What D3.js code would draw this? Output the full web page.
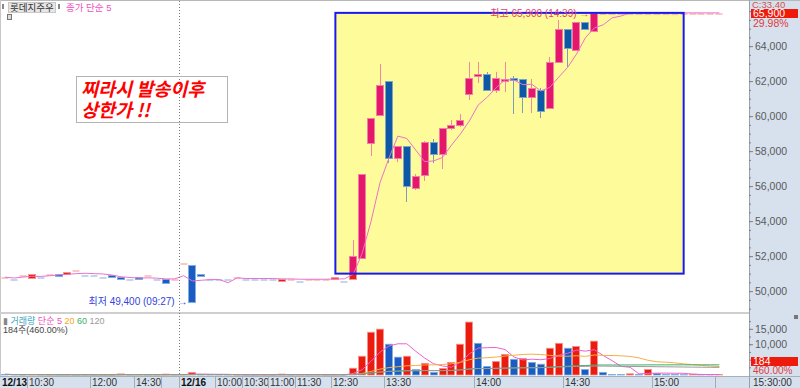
<!DOCTYPE html>
<html>
<head>
<meta charset="utf-8">
<script src="https://cdn.jsdelivr.net/npm/d3@7"></script>
<style>
  html, body { margin: 0; padding: 0; background: #fff; }
  svg { display: block; font-family: "Liberation Sans Narrow", "Liberation Sans", "Noto Sans CJK KR", sans-serif; }
</style>
</head>
<body>
<svg id="chart" width="800" height="388"></svg>
<script>
// 3-minute bars, 12/13 afternoon + 12/16
const open  = [50800,50700,50900,50800,50800,51000,51000,51000,51200,50900,
               50900,50800,50900,50800,50700,50800,50900,50700,50700,50700,
               51600,51500,51000,50700,50700,50700,50800,50700,50700,50700,
               50700,50600,50700,50600,50700,50700,50700,50700,50600,50700,
               51900,58500,60100,62000,57600,58300,55900,56600,58500,57800,
               59300,59500,61300,62300,62400,61500,62000,62200,62100,61100,
               61500,60500,63100,65000,63800,65400,64900,65900,65900,65900,
               65900,65900,65900,65900,65900,65900,65900,65900,65900,65900,65900];
const high  = [50800,50700,50900,51000,50800,51000,51000,51100,51200,50900,
               50900,50800,50900,50800,50700,50800,50900,50700,50700,50700,
               51600,51500,51000,50700,50700,50700,50800,50700,50700,50700,
               50700,50700,50700,50600,50700,50700,50700,50800,50600,52900,
               56700,59900,63000,62000,58300,58300,56700,58600,58700,59300,
               59800,60100,63100,63100,62500,62500,63100,62300,62100,62100,
               61600,63400,65500,65000,65400,65400,65900,65900,65900,65900,
               65900,65900,65900,65900,65900,65900,65900,65900,65900,65900,65900];
const low   = [50800,50700,50900,50800,50800,51000,50900,51000,51200,50900,
               50900,50800,50800,50700,50700,50700,50900,50700,50500,50700,
               51600,49400,50900,50700,50700,50700,50800,50700,50700,50700,
               50700,50600,50700,50600,50700,50700,50700,50700,50600,50700,
               51900,57700,60100,57300,57400,55100,55800,56300,57300,57000,
               59200,59400,60900,61900,61500,61300,61400,60100,60200,60200,
               59900,60500,63100,62800,63800,65000,64900,65900,65900,65900,
               65900,65900,65900,65900,65900,65900,65900,65900,65900,65900,65900];
const close = [50800,50700,50900,51000,50800,51000,50900,51100,51200,50900,
               50900,50800,50800,50700,50700,50700,50900,50700,50500,50700,
               51600,49400,50900,50700,50700,50700,50800,50700,50700,50700,
               50700,50700,50700,50600,50700,50700,50700,50800,50600,52000,
               56700,59900,61800,57600,58300,56000,56600,58500,57800,59300,
               59500,59800,62200,62400,61500,62200,62100,62100,61100,61600,
               60300,63100,65000,63900,65400,65000,65900,65900,65900,65900,
               65900,65900,65900,65900,65900,65900,65900,65900,65900,65900,65900];
const volume = [200,100,80,150,60,100,80,120,60,80,
                50,60,100,350,50,80,60,70,300,120,
                150,800,100,50,40,30,60,40,30,30,
                20,300,50,60,30,30,40,150,100,2200,
                6100,13900,14900,10000,5800,6100,1800,3800,850,2150,
                4100,10000,17200,10300,2800,4400,6700,5100,5400,4100,
                3500,8700,10300,8700,9300,1800,11000,850,200,150,
                400,150,1800,500,200,150,100,300,150,40,184];
const prevClose = 50700;

const tickIndex  = [0, 3, 10, 15, 18, 20, 24, 27, 30, 33, 37, 43, 53, 63, 73, 80];
const tickLabels = ['12/13', '10:30', '12:00', '14:30', '', '12/16', '10:00', '10:30',
                    '11:00', '11:30', '12:30', '13:30', '14:00', '14:30', '15:00', ''];
const priceTicks  = [50000, 52000, 54000, 56000, 58000, 60000, 62000, 64000];
const volumeTicks = [10000, 15000];

// highlighted box: bar range and price range
const boxBars   = [37, 76];
const boxPrices = [51000, 65900];

const W = 800, H = 388, plotRight = 749;
const priceTop = 5, priceBottom = 313, volTop = 315, volBottom = 375, axisTop = 376;

const svg = d3.select('#chart');
const idx = d3.range(close.length);

const x = d3.scaleBand().domain(idx).range([0.5, 0.5 + 8.93 * close.length]).paddingInner(0.1).paddingOuter(0.05);
const y = d3.scaleLinear().domain([48750, 66350]).range([priceBottom, priceTop]);
const yv = d3.scaleLinear().domain([0, 19500]).range([volBottom, volTop]);
const cx = i => Math.floor(x(i) + x.bandwidth() / 2) + 0.5;
const edge = i => Math.round(x(i) + x.bandwidth() / 2 - x.step() / 2) + 0.5;

const ma = (arr, n) => arr.map((_, i) => d3.mean(arr.slice(Math.max(0, i - n + 1), i + 1)));

// candle direction (doji takes colour from previous close)
const dir = [];
idx.forEach(i => {
  if (close[i] > open[i]) dir[i] = 1;
  else if (close[i] < open[i]) dir[i] = -1;
  else if (i === 0) dir[i] = 1;
  else dir[i] = close[i] > close[i - 1] ? 1 : close[i] < close[i - 1] ? -1 : dir[i - 1];
});

// backgrounds
svg.append('rect').attr('width', W).attr('height', H).attr('fill', '#fff');
svg.append('rect').attr('x', plotRight).attr('y', 0).attr('width', W - plotRight).attr('height', H).attr('fill', '#d7e1ee');
svg.append('rect').attr('x', 0).attr('y', axisTop).attr('width', W).attr('height', H - axisTop).attr('fill', '#d7e1ee');
svg.append('line').attr('x1', 0).attr('x2', W).attr('y1', 0.5).attr('y2', 0.5).attr('stroke', '#b8b8b8');
svg.append('line').attr('x1', 0.5).attr('x2', 0.5).attr('y1', 0).attr('y2', axisTop).attr('stroke', '#c8c8c8');
svg.append('rect').attr('x', 0).attr('y', priceBottom - 1).attr('width', plotRight).attr('height', 2).attr('fill', '#cfcfcf');
svg.append('line').attr('x1', 0).attr('x2', W).attr('y1', axisTop + 0.5).attr('y2', axisTop + 0.5).attr('stroke', '#a8b0bc');
svg.append('line').attr('x1', plotRight + 0.5).attr('x2', plotRight + 0.5).attr('y1', 0).attr('y2', H).attr('stroke', '#9aa2ae');

const palette = {
  up:   { fill: '#ec1b0f', edge: '#f3968c', wick: '#f08a84' },
  down: { fill: '#1a5cc4', edge: '#86aedc', wick: '#7c9cc0' }
};
const boxPalette = {
  up:   { fill: '#e4176b', edge: '#f07ea6', wick: '#f08aa2' },
  down: { fill: '#0c58a6', edge: '#7ea4cc', wick: '#7e9cb8' }
};

function drawCandles(g, pal) {
  const c = g.selectAll('g').data(idx).join('g');
  c.filter(i => high[i] > low[i]).append('line')
    .attr('x1', cx).attr('x2', cx)
    .attr('y1', i => Math.round(y(high[i]))).attr('y2', i => Math.round(y(low[i])))
    .attr('stroke', i => (dir[i] > 0 ? pal.up : pal.down).wick).attr('stroke-width', 1);
  c.append('rect')
    .attr('x', i => Math.round(x(i)) + 0.5)
    .attr('width', Math.round(x.bandwidth()) - 1)
    .attr('y', i => Math.round(y(Math.max(open[i], close[i]))) + 0.5)
    .attr('height', i => Math.max(1, Math.round(Math.abs(y(open[i]) - y(close[i])))))
    .attr('fill', i => {
      const p = dir[i] > 0 ? pal.up : pal.down;
      return open[i] === close[i] ? p.edge : p.fill;
    })
    .attr('stroke', i => (dir[i] > 0 ? pal.up : pal.down).edge)
    .attr('stroke-width', i => open[i] === close[i] ? 0 : 1);
}

// candles outside the box
drawCandles(svg.append('g'), palette);

// highlight box
const bx0 = x(boxBars[0]) + x.bandwidth() / 2, bx1 = x(boxBars[1]) + x.bandwidth() / 2;
const by0 = y(boxPrices[1]), by1 = y(boxPrices[0]);
svg.append('clipPath').attr('id', 'boxClip').append('rect')
  .attr('x', bx0).attr('y', by0).attr('width', bx1 - bx0).attr('height', by1 - by0);
svg.append('rect').attr('x', bx0).attr('y', by0).attr('width', bx1 - bx0).attr('height', by1 - by0)
  .attr('fill', '#fefc9a');
drawCandles(svg.append('g').attr('clip-path', 'url(#boxClip)'), boxPalette);

// price MA 5
const priceMA = ma(close, 5);
svg.append('path').datum(idx)
  .attr('d', d3.line().x(i => x(i) + x.bandwidth() / 2).y(i => y(priceMA[i])))
  .attr('fill', 'none').attr('stroke', '#ec70cf').attr('stroke-width', 1);

svg.append('rect').attr('x', bx0).attr('y', by0).attr('width', bx1 - bx0).attr('height', by1 - by0)
  .attr('fill', 'none').attr('stroke', '#1a1aee').attr('stroke-width', 2);

// high / low annotations
const hiIdx = d3.maxIndex(high), loIdx = d3.minIndex(low);
svg.append('text').attr('x', x(hiIdx) - 1).attr('y', y(high[hiIdx]) + 4)
  .attr('text-anchor', 'end').attr('font-size', 10).attr('fill', '#e8406e')
  .text(`최고 ${d3.format(',')(high[hiIdx])} (14:39) →`);
svg.append('text').attr('x', x(loIdx) - 1).attr('y', y(low[loIdx]) + 3)
  .attr('text-anchor', 'end').attr('font-size', 10).attr('fill', '#3344dd')
  .text(`최저 ${d3.format(',')(low[loIdx])} (09:27) →`);

// volume bars
const volColor = i => (i > 0 && volume[i] >= volume[i - 1]) ? 'up' : 'down';
svg.append('g').selectAll('rect').data(idx).join('rect')
  .attr('x', i => Math.round(x(i)) + 0.5)
  .attr('width', Math.round(x.bandwidth()) - 1)
  .attr('y', i => yv(volume[i]))
  .attr('height', i => volBottom - yv(volume[i]))
  .attr('fill', i => palette[volColor(i)].fill)
  .attr('stroke', i => palette[volColor(i)].edge)
  .attr('stroke-width', 0.8);

const volMAs = [[5, '#f060d0'], [20, '#f5b043'], [60, '#3cae66'], [120, '#9a9a9a']];
volMAs.forEach(([n, col]) => {
  const m = ma(volume, n);
  svg.append('path').datum(idx)
    .attr('d', d3.line().x(i => x(i) + x.bandwidth() / 2).y(i => yv(m[i])))
    .attr('fill', 'none').attr('stroke', col).attr('stroke-width', 1);
});

// day separator
svg.append('line').attr('x1', edge(20)).attr('x2', edge(20)).attr('y1', 1).attr('y2', axisTop)
  .attr('stroke', '#777').attr('stroke-dasharray', '1,2');

// time axis
const xt = svg.append('g');
tickIndex.forEach((ti, k) => {
  const ex = edge(ti);
  if (ti > 0) xt.append('line').attr('x1', ex).attr('x2', ex).attr('y1', axisTop).attr('y2', H).attr('stroke', '#a3acb8');
  const isDate = tickLabels[k].includes('/');
  xt.append('text').attr('x', ex + 1.5).attr('y', H - 2.5)
    .attr('font-size', 10).attr('fill', isDate ? '#111' : '#333')
    .attr('font-weight', isDate ? 'bold' : 'normal')
    .text(tickLabels[k]);
});
xt.append('text').attr('x', plotRight + 4).attr('y', H - 2.5).attr('font-size', 10).attr('fill', '#333').text('15:30:00');

// price axis
const pa = svg.append('g').attr('transform', `translate(${plotRight},0)`);
pa.call(d3.axisRight(y).tickValues(d3.range(49000, 66001, 500)).tickSize(2).tickFormat(''));
pa.call(g => g.select('.domain').remove());
const pa2 = svg.append('g').attr('transform', `translate(${plotRight},0)`);
pa2.call(d3.axisRight(y).tickValues(priceTicks).tickSize(4).tickPadding(2).tickFormat(d3.format(',')));
pa2.select('.domain').remove();
[pa, pa2].forEach(g => g.selectAll('line').attr('stroke', '#7a8290'));
pa2.selectAll('text').attr('font-size', 10.5).attr('fill', '#5a5a5a').attr('font-family', null);

// volume axis
const va = svg.append('g').attr('transform', `translate(${plotRight},0)`);
va.call(d3.axisRight(yv).tickValues(d3.range(2500, 19000, 2500)).tickSize(2).tickFormat(''));
va.select('.domain').remove();
const va2 = svg.append('g').attr('transform', `translate(${plotRight},0)`);
va2.call(d3.axisRight(yv).tickValues(volumeTicks).tickSize(4).tickPadding(2).tickFormat(d3.format(',')));
va2.select('.domain').remove();
[va, va2].forEach(g => g.selectAll('line').attr('stroke', '#7a8290'));
va2.selectAll('text').attr('font-size', 10.5).attr('fill', '#5a5a5a').attr('font-family', null);

// last price markers
const last = close.length - 1;
const ly = Math.round(y(close[last]));
svg.append('text').attr('x', plotRight + 3).attr('y', 8).attr('font-size', 9.5).attr('fill', '#d05050').text('C:33.40');
svg.append('rect').attr('x', plotRight + 2).attr('y', ly - 4).attr('width', W - plotRight - 4).attr('height', 9).attr('fill', '#ee1a0c');
svg.append('text').attr('x', plotRight + 4).attr('y', ly + 4).attr('font-size', 10.5).attr('fill', '#fff')
  .text(d3.format(',')(close[last]));
svg.append('text').attr('x', plotRight + 4).attr('y', ly + 14).attr('font-size', 10.5).attr('fill', '#e03a3a')
  .text(d3.format('.2f')((close[last] / prevClose - 1) * 100) + '%');
svg.append('rect').attr('x', plotRight + 2).attr('y', volBottom - 18).attr('width', W - plotRight - 4).attr('height', 9).attr('fill', '#ee1a0c');
svg.append('text').attr('x', plotRight + 4).attr('y', volBottom - 10).attr('font-size', 10.5).attr('fill', '#fff')
  .text(volume[last]);
const volPct = d3.format('.2f')(volume[last] / volume[last - 1] * 100) + '%';
svg.append('text').attr('x', plotRight + 4).attr('y', volBottom - 1).attr('font-size', 10).attr('fill', '#e03a3a').text(volPct);
svg.append('rect').attr('x', 794).attr('y', priceBottom + 2).attr('width', 4).attr('height', 4).attr('fill', '#777');

// header (price panel)
svg.append('rect').attr('x', 2).attr('y', 4).attr('width', 2).attr('height', 5).attr('fill', '#888');
svg.append('rect').attr('x', 8.5).attr('y', 2.5).attr('width', 47).attr('height', 10).attr('fill', '#e6e6e6').attr('stroke', '#c8c8c8');
svg.append('text').attr('x', 10).attr('y', 11).attr('font-size', 9.5).attr('fill', '#333').text('롯데지주우');
svg.append('rect').attr('x', 58).attr('y', 4).attr('width', 2).attr('height', 5).attr('fill', '#888');
svg.append('text').attr('x', 66).attr('y', 11).attr('font-size', 9.5).attr('fill', '#ef4fbf').text('종가 단순 5');
svg.append('rect').attr('x', 7.5).attr('y', 14.5).attr('width', 4).attr('height', 5).attr('fill', '#ddd').attr('stroke', '#777');

// header (volume panel)
const vh = svg.append('text').attr('x', 3).attr('y', 324).attr('font-size', 9);
vh.append('tspan').attr('fill', '#888').text('▮ ');
vh.append('tspan').attr('fill', '#3aa6c0').text('거래량 ');
vh.append('tspan').attr('fill', '#ef4fbf').text('단순 5 ');
vh.append('tspan').attr('fill', '#f5a623').text('20 ');
vh.append('tspan').attr('fill', '#3cae66').text('60 ');
vh.append('tspan').attr('fill', '#999').text('120');
svg.append('text').attr('x', 3).attr('y', 333).attr('font-size', 9).attr('fill', '#444')
  .text(`${volume[last]}주(${volPct})`);

// annotation
svg.append('rect').attr('x', 76.5).attr('y', 76.5).attr('width', 151).attr('height', 46)
  .attr('fill', 'none').attr('stroke', '#b4b4b4');
const note = svg.append('text').attr('font-size', 18.5).attr('font-weight', 'bold').attr('font-style', 'italic')
  .attr('fill', '#ff0000').attr('font-family', '"Noto Sans CJK KR", sans-serif');
note.append('tspan').attr('x', 81).attr('y', 96).text('찌라시 발송이후');
note.append('tspan').attr('x', 81).attr('y', 117).text('상한가 !!');
</script>
</body>
</html>
